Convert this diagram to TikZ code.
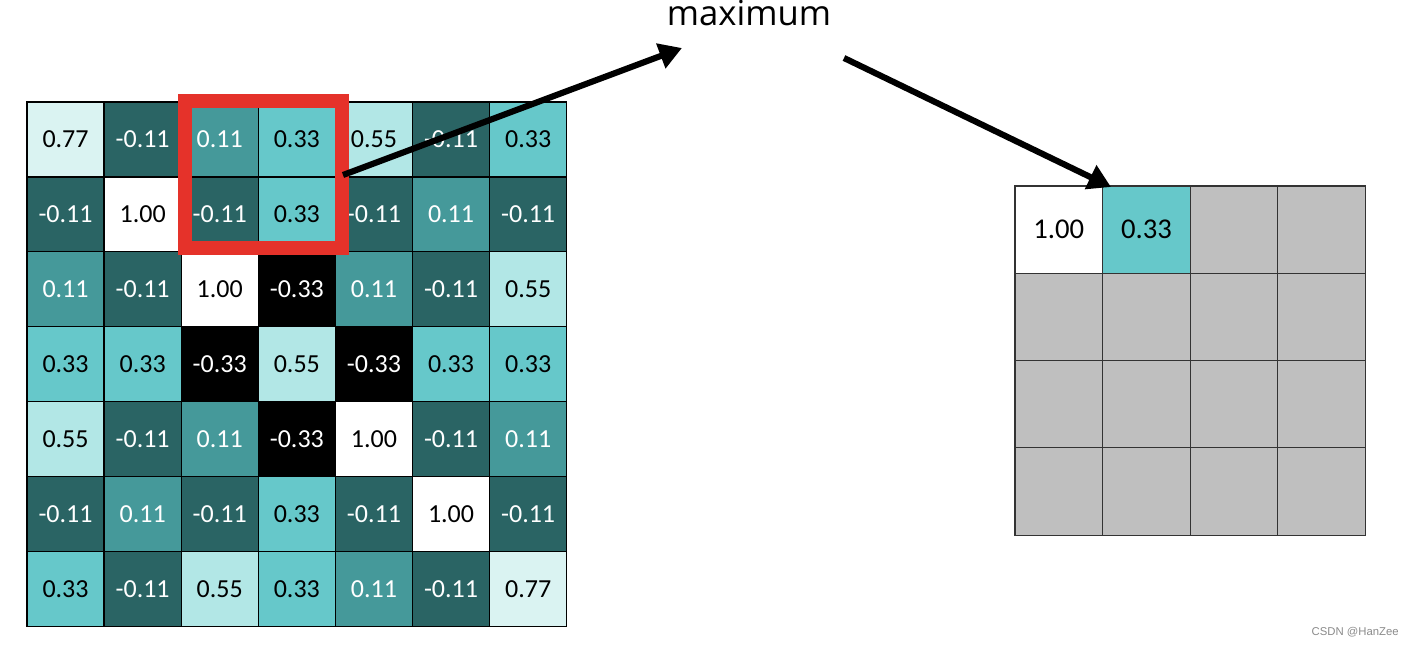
\documentclass[tikz,border=0pt]{standalone}
\usepackage{fontspec}
\setmainfont{Carlito}
\newfontfamily\labelfont{Open Sans}
\newfontfamily\markfont{Liberation Sans}
\usetikzlibrary{arrows.meta}
\definecolor{cA}{HTML}{DAF3F2}
\definecolor{cB}{HTML}{2A6464}
\definecolor{cC}{HTML}{45999A}
\definecolor{cD}{HTML}{66C8CA}
\definecolor{cE}{HTML}{B2E7E6}
\definecolor{cgray}{HTML}{BFBFBF}
\definecolor{cred}{HTML}{E5322A}
\definecolor{wm}{HTML}{8A8A8A}
\begin{document}
\begin{tikzpicture}[x=0.75pt,y=-0.75pt,
  cell/.style={draw=black,line width=1pt,inner sep=0pt,
    minimum width=57.8pt,minimum height=56.2pt,
    font=\fontsize{19.5}{22}\selectfont},
  ca/.style={fill=cA,text=black},
  cb/.style={fill=cB,text=white},
  cc/.style={fill=cC,text=white},
  cd/.style={fill=cD,text=black},
  ce/.style={fill=cE,text=black},
  cf/.style={fill=white,text=black},
  cg/.style={fill=black,text=white},
  rcell/.style={draw=black!80,line width=0.9pt,inner sep=0pt,
    minimum width=65.6pt,minimum height=65.5pt,
    font=\fontsize{21.5}{24}\selectfont,fill=cgray},
  bigarrow/.style={line width=4.6pt,-{Triangle[length=17pt,width=19pt]}},
]
\useasboundingbox (0,0) rectangle (1414,646);
% left 7x7 grid
\foreach \row [count=\i] in {
  {ca/0.77,cb/-0.11,cc/0.11,cd/0.33,ce/0.55,cb/-0.11,cd/0.33},
  {cb/-0.11,cf/1.00,cb/-0.11,cd/0.33,cb/-0.11,cc/0.11,cb/-0.11},
  {cc/0.11,cb/-0.11,cf/1.00,cg/-0.33,cc/0.11,cb/-0.11,ce/0.55},
  {cd/0.33,cd/0.33,cg/-0.33,ce/0.55,cg/-0.33,cd/0.33,cd/0.33},
  {ce/0.55,cb/-0.11,cc/0.11,cg/-0.33,cf/1.00,cb/-0.11,cc/0.11},
  {cb/-0.11,cc/0.11,cb/-0.11,cd/0.33,cb/-0.11,cf/1.00,cb/-0.11},
  {cd/0.33,cb/-0.11,ce/0.55,cd/0.33,cc/0.11,cb/-0.11,ca/0.77}}
{
  \foreach \s/\t [count=\j] in \row {
    \node[cell,\s] (L-\i-\j) at ({27+77.1*(\j-0.5)},{102+74.9*(\i-0.5)}) {\t};
  }
}
% red pooling window
\node[draw=cred,line width=10.5pt,inner sep=0pt,minimum width=118pt,minimum height=110.5pt]
  (win) at (263.5,174.5) {};
% right 4x4 grid
\foreach \i in {1,...,4}{
  \foreach \j in {1,...,4}{
    \node[rcell] (R-\i-\j) at ({1015+87.6*(\j-0.5)},{186+87.3*(\i-0.5)}) {};
  }
}
\node[rcell,fill=white] (R-1-1) at ({1015+87.6*0.5},{186+87.3*0.5}) {1.00};
\node[rcell,fill=cD] (R-1-2) at ({1015+87.6*1.5},{186+87.3*0.5}) {0.33};
% label
\node[font=\labelfont\fontsize{26}{30}\selectfont,inner sep=0pt,anchor=base] (maxl) at (749,26) {maximum};
\coordinate (a1s) at (343,175);
\coordinate (a1e) at (682,48);
\coordinate (a2s) at (844,58);
\coordinate (a2e) at (1111,187);
\draw[bigarrow] (a1s) -- (a1e);
\draw[bigarrow] (a2s) -- (a2e);
% watermark
\node[font=\markfont\fontsize{8.5}{10}\selectfont,text=wm,anchor=east,inner sep=0pt] (wmk) at (1399,632) {CSDN @HanZee};
\end{tikzpicture}
\end{document}
